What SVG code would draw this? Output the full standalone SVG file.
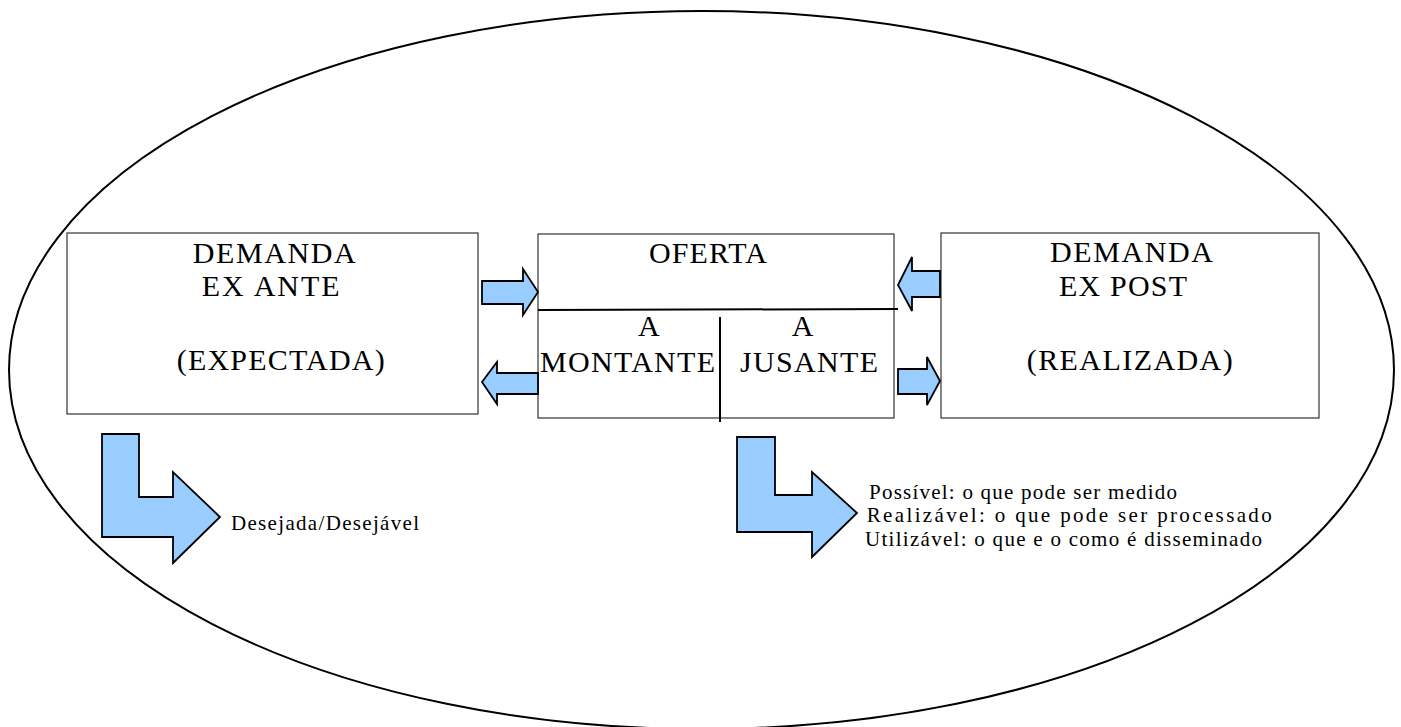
<svg xmlns="http://www.w3.org/2000/svg" width="1401" height="727" viewBox="0 0 1401 727">
<style>
.box{fill:#fff;stroke:#333;stroke-width:1.2}
.big{font-family:"Liberation Serif","Times New Roman",serif;font-size:30px;fill:#000}
.small{font-family:"Liberation Serif","Times New Roman",serif;font-size:21px;fill:#000}
.arr{fill:#99ccff;stroke:#000;stroke-width:1.8;stroke-linejoin:miter}
.ln{stroke:#000;stroke-width:2;fill:none}
</style>
<rect width="1401" height="727" fill="#fff"/>
<ellipse id="boundary" cx="701.5" cy="370" rx="692.5" ry="359" fill="none" stroke="#000" stroke-width="2"/>
<g id="demanda-ex-ante">
<rect class="box" x="67" y="233" width="411" height="181"/>
<text class="big" x="192.7" y="263" textLength="163" lengthAdjust="spacing">DEMANDA</text>
<text class="big" x="201.7" y="296" textLength="138" lengthAdjust="spacing">EX ANTE</text>
<text class="big" x="176.7" y="370" textLength="208" lengthAdjust="spacing">(EXPECTADA)</text>
</g>
<g id="oferta">
<rect class="box" x="538" y="234" width="356" height="184"/>
<text class="big" x="649" y="263" textLength="118" lengthAdjust="spacing">OFERTA</text>
<line class="ln" x1="538" y1="310" x2="898" y2="309"/>
<line class="ln" x1="720" y1="317" x2="720" y2="422"/>
<text class="big" x="638" y="336">A</text>
<text class="big" x="540" y="372" textLength="175" lengthAdjust="spacing">MONTANTE</text>
<text class="big" x="791.7" y="336">A</text>
<text class="big" x="740" y="372" textLength="138" lengthAdjust="spacing">JUSANTE</text>
</g>
<g id="demanda-ex-post">
<rect class="box" x="941" y="233" width="378" height="185"/>
<text class="big" x="1050" y="262" textLength="163" lengthAdjust="spacing">DEMANDA</text>
<text class="big" x="1059" y="296" textLength="128" lengthAdjust="spacing">EX POST</text>
<text class="big" x="1026.7" y="370" textLength="206" lengthAdjust="spacing">(REALIZADA)</text>
</g>
<g id="desejada">
<polygon class="arr" points="102,434 139,434 139,497 173,497 173,472 220,517 173,563 173,537 102,537"/>
<text class="small" x="231" y="530" textLength="188" lengthAdjust="spacing">Desejada/Desejável</text>
</g>
<g id="possivel">
<polygon class="arr" points="737,437 775,437 775,495 812,495 812,472 857,513 812,557 812,532 737,532"/>
<text class="small" x="869" y="499" font-size="20" textLength="308" lengthAdjust="spacing">Possível: o que pode ser medido</text>
<text class="small" x="866.7" y="521.5" font-size="22" textLength="405" lengthAdjust="spacing">Realizável: o que pode ser processado</text>
<text class="small" x="865" y="546" textLength="397" lengthAdjust="spacing">Utilizável: o que e o como é disseminado</text>
</g>
<g id="connectors">
<polygon class="arr" points="482,281 523,281 523,269 538,292 523,315 523,304 482,304"/>
<polygon class="arr" points="538,373 497,373 497,362 482,382 497,404 497,394 538,394"/>
<polygon class="arr" points="940,271 912,271 912,257 898,285 912,311 912,297 940,297"/>
<polygon class="arr" points="898,369 927,369 927,357 940,381 927,405 927,394 898,394"/>
</g>
</svg>
